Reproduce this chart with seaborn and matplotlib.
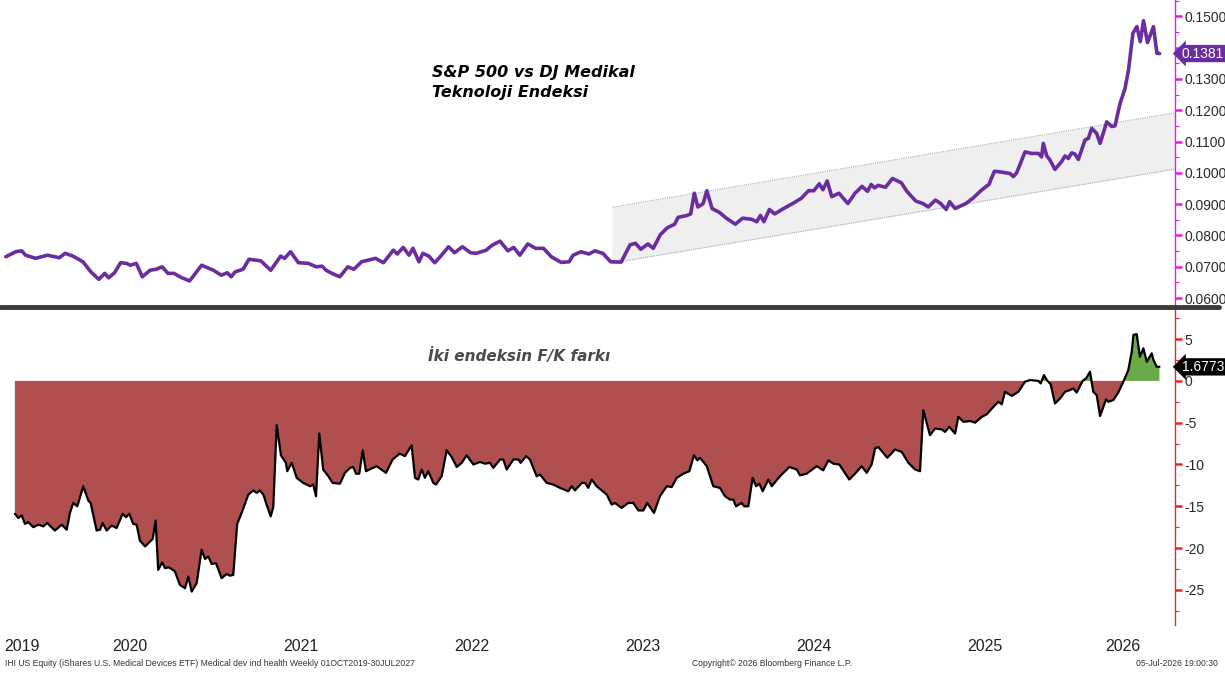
import numpy as np
import pandas as pd
import matplotlib
matplotlib.use("Agg")
import matplotlib.pyplot as plt
import seaborn as sns
from matplotlib.lines import Line2D
from matplotlib.ticker import FixedLocator, MultipleLocator, FuncFormatter

# ---------------- data (decimal years) ----------------
ratio_years = [
    2019.774, 2019.832, 2019.867, 2019.890, 2019.948, 2020.017, 2020.087, 2020.121, 2020.167, 2020.225,
    2020.271, 2020.318, 2020.352, 2020.375, 2020.410, 2020.445, 2020.480, 2020.502, 2020.537, 2020.572,
    2020.618, 2020.653, 2020.688, 2020.722, 2020.757, 2020.803, 2020.849, 2020.919, 2020.988, 2021.034,
    2021.069, 2021.092, 2021.115, 2021.161, 2021.196, 2021.265, 2021.323, 2021.381, 2021.404, 2021.439,
    2021.485, 2021.543, 2021.589, 2021.623, 2021.647, 2021.681, 2021.727, 2021.774, 2021.809, 2021.855,
    2021.936, 2021.982, 2022.040, 2022.063, 2022.098, 2022.132, 2022.155, 2022.190, 2022.213, 2022.248,
    2022.282, 2022.317, 2022.363, 2022.398, 2022.444, 2022.491, 2022.525, 2022.583, 2022.618, 2022.664,
    2022.710, 2022.744, 2022.780, 2022.826, 2022.872, 2022.918, 2022.964, 2023.022, 2023.068, 2023.091,
    2023.137, 2023.184, 2023.219, 2023.265, 2023.311, 2023.372, 2023.424, 2023.456, 2023.487, 2023.529,
    2023.560, 2023.602, 2023.643, 2023.685, 2023.706, 2023.758, 2023.779, 2023.800, 2023.821, 2023.852,
    2023.873, 2023.904, 2023.946, 2023.988, 2024.040, 2024.082, 2024.134, 2024.165, 2024.187, 2024.207,
    2024.239, 2024.270, 2024.322, 2024.385, 2024.426, 2024.468, 2024.499, 2024.531, 2024.552, 2024.577,
    2024.604, 2024.646, 2024.698, 2024.740, 2024.781, 2024.813, 2024.834, 2024.854, 2024.875, 2024.918,
    2024.959, 2025.011, 2025.043, 2025.095, 2025.137, 2025.168, 2025.210, 2025.241, 2025.273, 2025.293,
    2025.325, 2025.356, 2025.388, 2025.429, 2025.482, 2025.523, 2025.555, 2025.588, 2025.646, 2025.666,
    2025.685, 2025.734, 2025.773, 2025.812, 2025.831, 2025.841, 2025.861, 2025.880, 2025.909, 2025.948,
    2025.968, 2025.987, 2026.007, 2026.026, 2026.046, 2026.085, 2026.104, 2026.124, 2026.153, 2026.173,
    2026.212, 2026.241, 2026.260, 2026.290, 2026.319, 2026.339, 2026.365, 2026.388, 2026.408, 2026.427,
    2026.450, 2026.485, 2026.505, 2026.521,
]
ratio_values = [
    0.0732, 0.0748, 0.0751, 0.0737, 0.0727, 0.0737, 0.0729, 0.0743, 0.0734, 0.0716,
    0.0684, 0.0660, 0.0679, 0.0665, 0.0681, 0.0713, 0.0711, 0.0705, 0.0711, 0.0668,
    0.0689, 0.0692, 0.0700, 0.0679, 0.0679, 0.0665, 0.0655, 0.0705, 0.0689, 0.0673,
    0.0681, 0.0668, 0.0684, 0.0692, 0.0724, 0.0719, 0.0689, 0.0734, 0.0727, 0.0748,
    0.0713, 0.0711, 0.0700, 0.0702, 0.0689, 0.0679, 0.0668, 0.0700, 0.0692, 0.0716,
    0.0727, 0.0713, 0.0753, 0.0741, 0.0762, 0.0737, 0.0759, 0.0716, 0.0743, 0.0734,
    0.0713, 0.0734, 0.0764, 0.0745, 0.0764, 0.0745, 0.0743, 0.0753, 0.0769, 0.0782,
    0.0751, 0.0762, 0.0737, 0.0773, 0.0759, 0.0759, 0.0732, 0.0714, 0.0716, 0.0737,
    0.0748, 0.0741, 0.0751, 0.0743, 0.0716, 0.0715, 0.0770, 0.0775, 0.0756, 0.0773,
    0.0759, 0.0803, 0.0825, 0.0836, 0.0858, 0.0864, 0.0869, 0.0935, 0.0891, 0.0902,
    0.0943, 0.0886, 0.0874, 0.0855, 0.0836, 0.0855, 0.0852, 0.0844, 0.0864, 0.0844,
    0.0883, 0.0869, 0.0886, 0.0905, 0.0919, 0.0943, 0.0943, 0.0965, 0.0946, 0.0974,
    0.0924, 0.0935, 0.0902, 0.0935, 0.0957, 0.0941, 0.0963, 0.0952, 0.0960, 0.0954,
    0.0982, 0.0968, 0.0941, 0.0910, 0.0902, 0.0891, 0.0913, 0.0902, 0.0883, 0.0908,
    0.0886, 0.0894, 0.0902, 0.0919, 0.0946, 0.0963, 0.1005, 0.1003, 0.0998, 0.0988,
    0.1000, 0.1067, 0.1062, 0.1062, 0.1051, 0.1094, 0.1054, 0.1041, 0.1011, 0.1036,
    0.1054, 0.1046, 0.1064, 0.1060, 0.1043, 0.1105, 0.1110, 0.1142, 0.1126, 0.1094,
    0.1163, 0.1148, 0.1150, 0.1222, 0.1270, 0.1328, 0.1446, 0.1467, 0.1419, 0.1486,
    0.1416, 0.1467, 0.1382, 0.1381,
]

# trend channel (start / end)
band_years = [2023.319, 2026.611]
band_lower = [0.0712, 0.1012]
band_upper = [0.0890, 0.1192]

pe_years = [
    2019.827, 2019.847, 2019.867, 2019.886, 2019.905, 2019.935, 2019.964, 2019.993, 2020.016, 2020.061,
    2020.101, 2020.130, 2020.149, 2020.168, 2020.192, 2020.227, 2020.256, 2020.270, 2020.305, 2020.325,
    2020.340, 2020.364, 2020.393, 2020.422, 2020.457, 2020.477, 2020.496, 2020.519, 2020.539, 2020.558,
    2020.588, 2020.633, 2020.650, 2020.665, 2020.689, 2020.705, 2020.724, 2020.744, 2020.763, 2020.792,
    2020.822, 2020.841, 2020.861, 2020.890, 2020.919, 2020.939, 2020.958, 2020.978, 2021.003, 2021.036,
    2021.065, 2021.085, 2021.104, 2021.127, 2021.153, 2021.192, 2021.221, 2021.241, 2021.260, 2021.280,
    2021.299, 2021.323, 2021.338, 2021.358, 2021.383, 2021.412, 2021.420, 2021.446, 2021.475, 2021.513,
    2021.553, 2021.572, 2021.588, 2021.607, 2021.630, 2021.660, 2021.685, 2021.728, 2021.757, 2021.787,
    2021.806, 2021.822, 2021.841, 2021.861, 2021.880, 2021.943, 2021.997, 2022.036, 2022.078, 2022.108,
    2022.147, 2022.167, 2022.186, 2022.206, 2022.225, 2022.244, 2022.274, 2022.289, 2022.323, 2022.352,
    2022.381, 2022.411, 2022.440, 2022.469, 2022.508, 2022.547, 2022.576, 2022.605, 2022.625, 2022.664,
    2022.683, 2022.703, 2022.742, 2022.771, 2022.785, 2022.816, 2022.839, 2022.878, 2022.898, 2022.937,
    2022.975, 2023.015, 2023.063, 2023.083, 2023.102, 2023.142, 2023.161, 2023.180, 2023.200, 2023.229,
    2023.288, 2023.317, 2023.336, 2023.375, 2023.414, 2023.443, 2023.473, 2023.502, 2023.525, 2023.564,
    2023.599, 2023.639, 2023.668, 2023.697, 2023.736, 2023.771, 2023.798, 2023.818, 2023.833, 2023.873,
    2023.911, 2023.950, 2023.980, 2024.009, 2024.028, 2024.044, 2024.077, 2024.091, 2024.116, 2024.141,
    2024.161, 2024.180, 2024.200, 2024.233, 2024.253, 2024.301, 2024.356, 2024.399, 2024.418, 2024.457,
    2024.477, 2024.516, 2024.554, 2024.584, 2024.613, 2024.648, 2024.706, 2024.740, 2024.779, 2024.808,
    2024.837, 2024.857, 2024.876, 2024.929, 2024.974, 2025.013, 2025.052, 2025.091, 2025.120, 2025.139,
    2025.178, 2025.208, 2025.247, 2025.266, 2025.291, 2025.325, 2025.344, 2025.374, 2025.413, 2025.442,
    2025.481, 2025.510, 2025.549, 2025.578, 2025.598, 2025.617, 2025.656, 2025.695, 2025.734, 2025.763,
    2025.812, 2025.826, 2025.845, 2025.861, 2025.884, 2025.909, 2025.939, 2025.968, 2025.997, 2026.016,
    2026.036, 2026.071, 2026.091, 2026.114, 2026.133, 2026.153, 2026.173, 2026.208, 2026.221, 2026.250,
    2026.279, 2026.309, 2026.338, 2026.358, 2026.368, 2026.387, 2026.406, 2026.426, 2026.446, 2026.475,
    2026.485, 2026.504, 2026.520,
]
pe_values = [
    -15.9, -16.4, -16.1, -17.1, -16.9, -17.5, -17.2, -17.4, -17.0, -17.9,
    -17.2, -17.8, -15.8, -14.6, -15.0, -12.6, -14.3, -14.6, -17.9, -17.8,
    -17.0, -17.9, -17.3, -17.6, -15.9, -16.3, -15.9, -17.1, -17.2, -19.1,
    -19.8, -18.9, -16.7, -22.6, -21.7, -22.4, -22.3, -22.5, -22.8, -24.4,
    -24.8, -23.4, -25.2, -24.2, -20.2, -21.3, -21.0, -21.9, -21.8, -23.6,
    -23.1, -23.3, -23.2, -17.1, -15.8, -13.6, -13.1, -13.4, -13.1, -13.6,
    -14.8, -16.2, -15.1, -5.3, -8.9, -9.8, -10.8, -9.8, -11.6, -12.2,
    -12.6, -12.4, -13.8, -6.3, -10.6, -11.4, -12.2, -12.3, -11.0, -10.4,
    -10.3, -11.1, -11.1, -8.3, -10.8, -10.2, -11.0, -9.4, -8.7, -9.0,
    -7.7, -11.6, -11.8, -10.6, -11.6, -10.8, -12.2, -12.4, -11.4, -8.3,
    -9.1, -10.3, -9.8, -8.9, -10.0, -9.7, -9.9, -9.8, -10.4, -9.4,
    -9.4, -10.6, -9.4, -9.4, -9.8, -9.0, -9.4, -11.4, -11.2, -12.2,
    -12.4, -12.8, -13.2, -12.6, -13.1, -12.2, -12.2, -12.8, -11.8, -12.6,
    -13.6, -14.8, -14.6, -15.2, -14.6, -14.6, -15.5, -15.5, -14.6, -15.8,
    -13.8, -12.6, -12.7, -11.6, -11.1, -10.8, -8.9, -9.5, -9.2, -10.2,
    -12.6, -12.8, -13.8, -14.2, -14.2, -15.0, -14.6, -15.0, -15.0, -11.6,
    -12.6, -12.3, -13.2, -11.8, -12.6, -11.4, -10.3, -10.6, -11.3, -11.1,
    -10.8, -10.2, -10.7, -9.5, -9.9, -10.0, -11.8, -11.1, -10.2, -11.0,
    -10.0, -8.1, -7.9, -9.2, -8.2, -8.5, -9.8, -10.6, -10.8, -3.5,
    -6.5, -5.7, -5.8, -6.1, -5.5, -6.3, -4.3, -4.9, -4.8, -5.0,
    -4.3, -4.0, -3.1, -2.5, -2.8, -1.3, -1.8, -1.3, -0.1, 0.1,
    0.0, -0.3, 0.7, 0.1, -0.4, -2.7, -2.1, -1.3, -1.1, -0.9,
    -1.4, 0.0, 0.3, 1.1, -1.3, -1.7, -4.2, -2.2, -2.5, -2.3,
    -1.4, -0.1, 1.3, 3.5, 5.5, 5.6, 2.9, 3.9, 2.3, 3.3,
    2.5, 1.7, 1.6773,
]

year_labels = ["2019", "2020", "2021", "2022", "2023", "2024", "2025", "2026"]
ratio_ticks = [0.06, 0.07, 0.08, 0.09, 0.10, 0.11, 0.12, 0.13, 0.14, 0.15]
ratio_tick_hidden = [0.14]          # label covered by the last-value tag
pe_ticks = [5, 0, -5, -10, -15, -20, -25]

title_top = "S&P 500 vs DJ Medikal\nTeknoloji Endeksi"
title_bottom = "İki endeksin F/K farkı"
footer_left = "IHI US Equity (iShares U.S. Medical Devices ETF) Medical dev ind health Weekly 01OCT2019-30JUL2027"
footer_mid = "Copyright© 2026 Bloomberg Finance L.P."
footer_right = "05-Jul-2026 19:00:30"

# ---------------- style ----------------
sns.set_theme(style="white")
plt.rcParams["font.family"] = ["Liberation Sans", "DejaVu Sans"]

X_MIN, X_MAX = 2019.740, 2026.611
W, H = 1225, 677
fig = plt.figure(figsize=(W / 100, H / 100), dpi=100)
fig.patch.set_facecolor("white")

ax1 = fig.add_axes([0, 1 - 305 / H, 1175 / W, 305 / H])
ax2 = fig.add_axes([0, 1 - 625 / H, 1175 / W, 316 / H])

top_df = pd.DataFrame({"year": ratio_years, "ratio": ratio_values})
pe_df = pd.DataFrame({"year": pe_years, "pe": pe_values})

PURPLE = "#6a2d9f"
MAGENTA = "#e21be2"
RED_AX = "#e8252a"

# ---- top panel ----
ax1.fill_between(band_years, band_lower, band_upper, color="#efefef", zorder=0, lw=0)
ax1.plot(band_years, band_lower, ls=(0, (1, 1)), color="#a8a8a8", lw=0.8, zorder=1)
ax1.plot(band_years, band_upper, ls=(0, (1, 1)), color="#a8a8a8", lw=0.8, zorder=1)
sns.lineplot(data=top_df, x="year", y="ratio", ax=ax1, color=PURPLE, lw=2.6,
             estimator=None, sort=False, zorder=3)
ax1.set_xlim(X_MIN, X_MAX)
ax1.set_ylim(0.0578, 0.1552)

# ---- bottom panel ----
x = np.array(pe_years)
y = np.array(pe_values)
ax2.fill_between(x, y, 0, where=y <= 0, interpolate=True, color="#b04f4f", lw=0, zorder=1)
ax2.fill_between(x, y, 0, where=y >= 0, interpolate=True, color="#6aaa4a", lw=0, zorder=1)
sns.lineplot(data=pe_df, x="year", y="pe", ax=ax2, color="black", lw=1.6,
             estimator=None, sort=False, zorder=3)
ax2.set_xlim(X_MIN, X_MAX)
ax2.set_ylim(-29.2, 8.6)

for ax, col, ticks in ((ax1, MAGENTA, ratio_ticks), (ax2, RED_AX, pe_ticks)):
    ax.set_xlabel("")
    ax.set_ylabel("")
    for s in ("left", "top", "bottom"):
        ax.spines[s].set_visible(False)
    ax.spines["right"].set_color(col)
    ax.spines["right"].set_linewidth(1.0)
    ax.yaxis.tick_right()
    ax.yaxis.set_major_locator(FixedLocator(ticks))
    ax.tick_params(axis="y", which="major", direction="out", length=5, width=1.8,
                   color=col, labelcolor="#2a2a2a", labelsize=10, pad=2)
    ax.tick_params(axis="y", which="minor", direction="out", length=3, width=0.8, color=col)
    ax.set_facecolor("white")


def ratio_fmt(v, p):
    if any(abs(v - h) < 1e-9 for h in ratio_tick_hidden):
        return ""
    return f"{v:.4f}"


ax1.yaxis.set_minor_locator(MultipleLocator(0.005))
ax1.yaxis.set_major_formatter(FuncFormatter(ratio_fmt))
ax2.yaxis.set_minor_locator(MultipleLocator(2.5))
ax2.yaxis.set_major_formatter(FuncFormatter(lambda v, p: f"{v:.0f}"))

# x axis: year labels centred in visible part of each year
ax1.set_xticks([])
ax2.set_xticks([])
centers = []
for lab in year_labels:
    yv = int(lab)
    a, b = max(yv, X_MIN), min(yv + 1, X_MAX)
    centers.append((a + b) / 2)
ax2.set_xticks(centers)
ax2.set_xticklabels(year_labels)
ax2.tick_params(axis="x", length=0, pad=10, labelsize=11.5, labelcolor="#222222")

# last value tags
ax1.annotate(f"{ratio_values[-1]:.4f}", xy=(1, ratio_values[-1]), xycoords=("axes fraction", "data"),
             xytext=(5, 0), textcoords="offset points", ha="left", va="center",
             fontsize=10, color="white", annotation_clip=False, zorder=10,
             bbox=dict(boxstyle="larrow,pad=0.12", fc=PURPLE, ec="none"))
ax2.annotate(f"{pe_values[-1]:.4f}", xy=(1, pe_values[-1]), xycoords=("axes fraction", "data"),
             xytext=(5, 0), textcoords="offset points", ha="left", va="center",
             fontsize=10, color="white", annotation_clip=False, zorder=10,
             bbox=dict(boxstyle="larrow,pad=0.12", fc="black", ec="none"))

# titles
ax1.text(432 / 1175, 1 - 65 / 305, title_top, transform=ax1.transAxes, ha="left", va="top",
         fontsize=11.5, fontweight="bold", style="italic", color="black", linespacing=1.45,
         family=["DejaVu Sans"])
ax2.text(428 / 1175, (625 - 356) / 316, title_bottom, transform=ax2.transAxes, ha="left",
         va="center", fontsize=11, fontweight="bold", style="italic", color="#4a4a4a",
         family=["DejaVu Sans"])

# panel separator
fig.add_artist(Line2D([0.0, 0.995], [1 - 307 / H] * 2, lw=3.5, color="#3a3a3a"))

# footer
fy = 1 - 663 / H
fig.text(5 / W, fy, footer_left, fontsize=6.2, color="#333333", ha="left", va="center")
fig.text(692 / W, fy, footer_mid, fontsize=6.2, color="#333333", ha="left", va="center")
fig.text(1218 / W, fy, footer_right, fontsize=6.2, color="#333333", ha="right", va="center")

fig.savefig("out.png", dpi=100)
